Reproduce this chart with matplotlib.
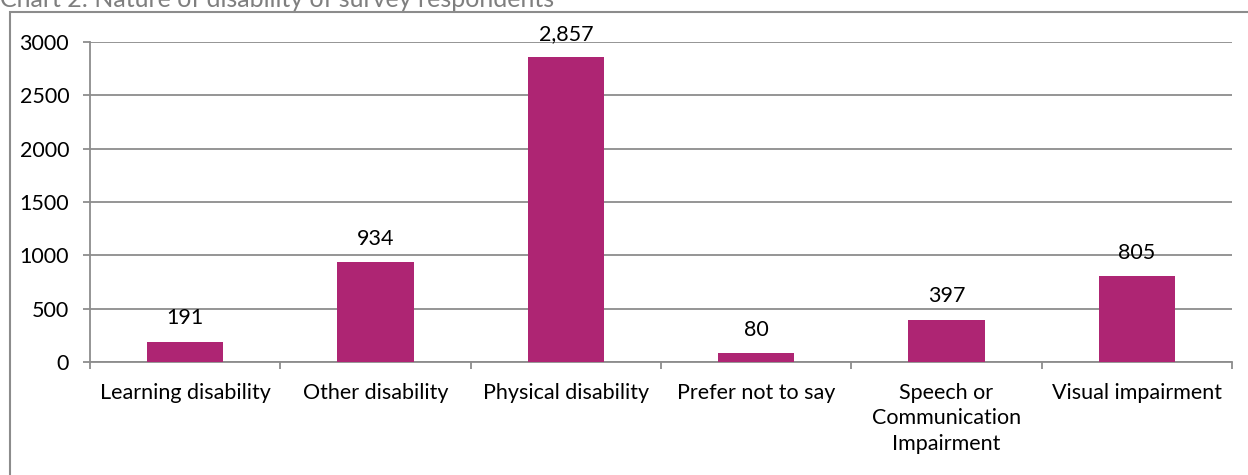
import matplotlib.pyplot as plt
from matplotlib.patches import Rectangle

# Survey counts by reported nature of disability
categories = [
    "Learning disability",
    "Other disability",
    "Physical disability",
    "Prefer not to say",
    "Speech or\nCommunication\nImpairment",
    "Visual impairment",
]
counts = [191, 934, 2857, 80, 397, 805]
y_ticks = [0, 500, 1000, 1500, 2000, 2500, 3000]

BAR_COLOR = "#AE2573"
GRID_COLOR = "#8C8C8C"
FONT = ["Lato", "DejaVu Sans"]
FS = 15.5

plt.rcParams["font.family"] = FONT

fig = plt.figure(figsize=(12.48, 4.75), dpi=100)
ax = fig.add_axes([90 / 1248, 1 - 362 / 475, 1142 / 1248, 320 / 475])

x = list(range(len(categories)))
ax.bar(x, counts, width=0.4, color=BAR_COLOR, zorder=3)

for xi, v in zip(x, counts):
    ax.annotate(f"{v:,}", (xi, v), xytext=(0, 17), textcoords="offset points",
                ha="center", va="center", fontsize=FS, color="black")

ax.set_xlim(-0.5, len(categories) - 0.5)
ax.set_ylim(0, 3000)
ax.set_yticks(y_ticks)
ax.set_yticklabels([str(t) for t in y_ticks], fontsize=FS)
ax.yaxis.grid(True, color=GRID_COLOR, linewidth=1.3, zorder=0)

# category labels sit at the centres, tick marks at the boundaries
ax.set_xticks(x)
ax.set_xticklabels(categories, fontsize=FS, linespacing=1.35)
ax.tick_params(axis="x", length=0, pad=15)
ax.set_xticks([i - 0.5 for i in range(len(categories) + 1)], minor=True)
ax.tick_params(axis="x", which="minor", length=5, width=1.3, color=GRID_COLOR)
ax.tick_params(axis="y", length=5, width=1.3, color=GRID_COLOR, pad=10)

for side in ["top", "right"]:
    ax.spines[side].set_visible(False)
for side in ["left", "bottom"]:
    ax.spines[side].set_color(GRID_COLOR)
    ax.spines[side].set_linewidth(1.3)

# outer chart frame
fig.patches.append(Rectangle((10 / 1248, -0.1), 1.2, 1 - 12 / 475 + 0.1,
                             transform=fig.transFigure, fill=False,
                             edgecolor=GRID_COLOR, linewidth=1.5))

fig.text(0.0, 1 - 7 / 475, "Chart 2: Nature of disability of survey respondents",
         fontsize=18, color="#7F7F7F", ha="left", va="baseline")

fig.savefig("out.png", dpi=100)
